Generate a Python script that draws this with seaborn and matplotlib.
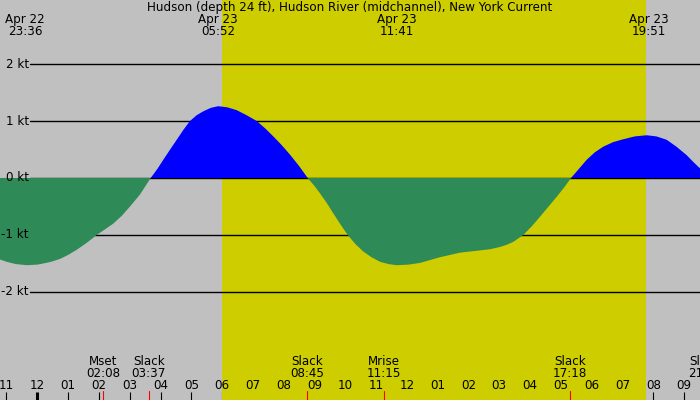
import numpy as np
import pandas as pd
import matplotlib
matplotlib.use("Agg")
import matplotlib.pyplot as plt
import seaborn as sns

# current speed (kt), hours from midnight Apr 23
hours = [-1.211, -1.0, -0.7, -0.344, 0.0, 0.195, 0.45, 0.737, 1.0, 1.279,
         1.6, 1.929, 2.2, 2.468, 2.75, 3.010, 3.334, 3.682, 3.9, 4.091,
         4.3, 4.526, 4.75, 4.958, 5.17, 5.390, 5.63, 5.877, 6.17, 6.474,
         6.8, 7.123, 7.4, 7.662, 7.93, 8.204, 8.5, 8.779, 9.0, 9.179,
         9.4, 9.610, 9.85, 10.078, 10.33, 10.584, 10.85, 11.127, 11.4, 11.669,
         12.05, 12.425, 12.75, 13.075, 13.4, 13.724, 14.05, 14.373, 14.7, 15.023,
         15.25, 15.455, 15.779, 16.05, 16.321, 16.6, 16.864, 17.1, 17.328, 17.6,
         17.838, 18.1, 18.377, 18.7, 19.026, 19.4, 19.786, 20.1, 20.435, 20.75,
         21.084, 21.3, 21.516]
knots = [-1.43, -1.47, -1.51, -1.53, -1.52, -1.50, -1.47, -1.42, -1.35, -1.26,
         -1.14, -1.00, -0.90, -0.80, -0.66, -0.50, -0.29, 0.0, 0.16, 0.32,
         0.49, 0.67, 0.85, 1.00, 1.10, 1.17, 1.23, 1.26, 1.24, 1.19,
         1.10, 1.00, 0.87, 0.73, 0.58, 0.41, 0.21, 0.0, -0.14, -0.27,
         -0.44, -0.62, -0.82, -1.00, -1.16, -1.29, -1.39, -1.47, -1.51, -1.53,
         -1.52, -1.49, -1.44, -1.39, -1.35, -1.31, -1.29, -1.27, -1.25, -1.21,
         -1.17, -1.12, -1.00, -0.85, -0.68, -0.50, -0.33, -0.17, 0.0, 0.17,
         0.32, 0.45, 0.55, 0.63, 0.68, 0.73, 0.75, 0.73, 0.67, 0.55,
         0.40, 0.28, 0.17]

kt_levels = [2, 1, 0, -1, -2]
kt_labels = ["2 kt", "1 kt", "0 kt", "-1 kt", "-2 kt"]

tick_hours = list(range(-1, 22))
tick_labels = ["11", "12", "01", "02", "03", "04", "05", "06", "07", "08", "09", "10",
               "11", "12", "01", "02", "03", "04", "05", "06", "07", "08", "09"]

event_hours = [2.133, 3.617, 8.75, 11.25, 17.3, 21.683]
event_names = ["Mset", "Slack", "Slack", "Mrise", "Slack", "Slack"]
event_times = ["02:08", "03:37", "08:45", "11:15", "17:18", "21:41"]

top_hours = [-0.4, 5.867, 11.683, 19.85]
top_dates = ["Apr 22", "Apr 23", "Apr 23", "Apr 23"]
top_times = ["23:36", "05:52", "11:41", "19:51"]

day_start, day_end = 6.0, 19.75

sns.set_theme(style="white")
plt.rcParams['font.family'] = ['DejaVu Sans']
plt.rcParams['text.color'] = 'black'
fs = 8.6

fig = plt.figure(figsize=(7, 4), dpi=100)
ax = fig.add_axes([0, 0, 1, 1])
ax.set_facecolor("#c0c0c0")
ax.set_xlim(-1.211, 21.516)
ax.set_ylim(-3.895, 3.123)

ax.axvspan(day_start, day_end, color="#cdcd00", lw=0, zorder=1)

# grid lines, starting just right of the kt labels
x0 = -0.237
grid = pd.DataFrame({
    "x": [x0, 21.516] * len(kt_levels),
    "y": [v for v in kt_levels for _ in range(2)],
    "lvl": [v for v in kt_levels for _ in range(2)],
})
sns.lineplot(data=grid, x="x", y="y", units="lvl", estimator=None, color="black",
             linewidth=1.0, ax=ax, zorder=2)

h = np.array(hours)
k = np.array(knots)
ax.fill_between(h, k, 0, where=k >= 0, interpolate=True, color="#0000ff", lw=0, zorder=3)
ax.fill_between(h, k, 0, where=k <= 0, interpolate=True, color="#2e8b57", lw=0, zorder=3)

for v, lab in zip(kt_levels, kt_labels):
    ax.text(-0.27, v, lab, ha="right", va="center", fontsize=fs, zorder=5)

# hour ticks along the bottom
ax.set_xticks(tick_hours)
ax.set_yticks([])
ax.tick_params(axis="x", direction="in", length=6, width=0.8, color="black",
               labelbottom=False, bottom=True)
ax.xaxis.get_major_ticks()[1].tick1line.set_markeredgewidth(2.2)
for s in ax.spines.values():
    s.set_visible(False)
ax.set_xlabel("")
ax.set_ylabel("")

xt = ax.get_xaxis_transform()
for t, lab in zip(tick_hours, tick_labels):
    ax.text(t, 14.5 / 400, lab, ha="center", va="center", fontsize=fs, transform=xt, zorder=5)

for eh, en, et in zip(event_hours, event_names, event_times):
    ax.axvline(eh, ymin=0, ymax=9 / 400, color="red", lw=0.8, zorder=4)
    ax.text(eh, 38.3 / 400, en, ha="center", va="center", fontsize=fs, transform=xt, zorder=5)
    ax.text(eh, 26.7 / 400, et, ha="center", va="center", fontsize=fs, transform=xt, zorder=5)

for th, td, tt in zip(top_hours, top_dates, top_times):
    ax.text(th, 1 - 20 / 400, td, ha="center", va="center", fontsize=fs, transform=xt, zorder=5)
    ax.text(th, 1 - 31.7 / 400, tt, ha="center", va="center", fontsize=fs, transform=xt, zorder=5)

ax.text(0.5, 1 - 7.3 / 400, "Hudson (depth 24 ft), Hudson River (midchannel), New York Current",
        ha="center", va="center", fontsize=fs, transform=ax.transAxes, zorder=5)

fig.savefig("out.png", dpi=100)
